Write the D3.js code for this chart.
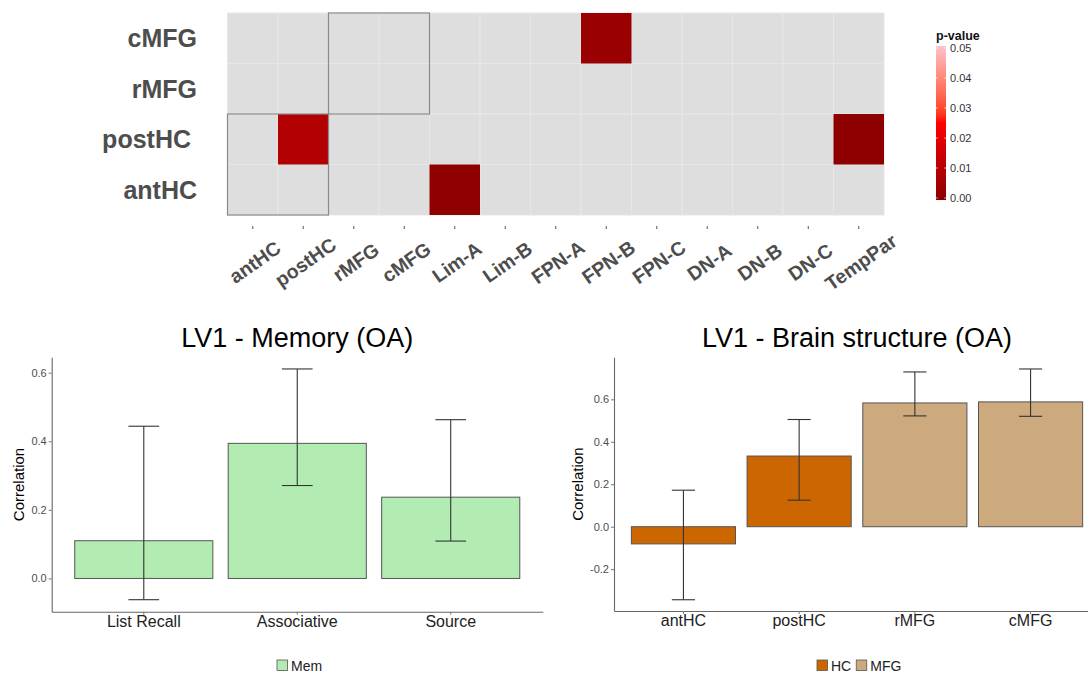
<!DOCTYPE html>
<html>
<head>
<meta charset="utf-8">
<script src="https://cdn.jsdelivr.net/npm/d3@7"></script>
<style>
  html, body { margin: 0; padding: 0; background: #fff; }
  svg { display: block; font-family: "Liberation Sans", Arial, Helvetica, sans-serif; }
</style>
</head>
<body>
<svg id="chart" width="1088" height="674"></svg>
<script>
// ---------------- DATA ----------------
// Heatmap (p-values of significant connections)
const heatRows = ["cMFG", "rMFG", "postHC", "antHC"];           // top to bottom
const heatCols = ["antHC", "postHC", "rMFG", "cMFG", "Lim-A", "Lim-B", "FPN-A",
                  "FPN-B", "FPN-C", "DN-A", "DN-B", "DN-C", "TempPar"];
const sigRow = ["cMFG", "postHC", "postHC", "antHC"];
const sigCol = ["FPN-B", "postHC", "TempPar", "Lim-A"];
const sigP   = [0.0035, 0.009, 0.0008, 0.001];
const boxRowSets = [["postHC", "antHC"], ["cMFG", "rMFG"]];
const boxColSets = [["antHC", "postHC"], ["rMFG", "cMFG"]];
const pTicks = [0, 0.01, 0.02, 0.03, 0.04, 0.05];

// LV1 - Memory (OA)
const memCats = ["List Recall", "Associative", "Source"];
const memVal  = [0.110, 0.394, 0.237];
const memLo   = [-0.062, 0.271, 0.109];
const memHi   = [0.444, 0.611, 0.463];
const memTicks = [0.0, 0.2, 0.4, 0.6];
const memGroups = ["Mem"];

// LV1 - Brain structure (OA)
const brainCats  = ["antHC", "postHC", "rMFG", "cMFG"];
const brainVal   = [-0.081, 0.333, 0.583, 0.588];
const brainLo    = [-0.344, 0.125, 0.522, 0.520];
const brainHi    = [0.172, 0.505, 0.729, 0.743];
const brainGroup = ["HC", "HC", "MFG", "MFG"];
const brainTicks = [-0.2, 0.0, 0.2, 0.4, 0.6];
const brainGroups = ["HC", "MFG"];

// ---------------- STYLE ----------------
const FONT = '"Liberation Sans", Arial, Helvetica, sans-serif';
const svg = d3.select("#chart");

// ================= HEATMAP =================
const hx = d3.scaleBand().domain(heatCols).range([227.5, 884]).padding(0);
const hy = d3.scaleBand().domain(heatRows).range([13, 215]).padding(0);
const pColor = d3.scaleLinear().domain([0, 0.025, 0.05])
  .range(["darkred", "red", "pink"]).interpolate(d3.interpolateLab);

const heat = svg.append("g");
const allCells = [];
heatRows.forEach(r => heatCols.forEach(c => allCells.push({r, c})));
heat.selectAll("rect.bg").data(allCells).join("rect")
  .attr("class", "bg")
  .attr("x", d => hx(d.c)).attr("y", d => hy(d.r))
  .attr("width", hx.bandwidth()).attr("height", hy.bandwidth())
  .attr("fill", "#dedede").attr("stroke", "#e7e7e7").attr("stroke-width", 1);

const sigCells = sigRow.map((r, i) => ({r, c: sigCol[i], p: sigP[i]}));
heat.selectAll("rect.sig").data(sigCells).join("rect")
  .attr("class", "sig")
  .attr("x", d => hx(d.c)).attr("y", d => hy(d.r))
  .attr("width", hx.bandwidth()).attr("height", hy.bandwidth())
  .attr("fill", d => pColor(d.p));

// outline boxes
const boxes = boxRowSets.map((rs, i) => ({rs, cs: boxColSets[i]}));
heat.selectAll("rect.box").data(boxes).join("rect")
  .attr("class", "box")
  .attr("x", d => d3.min(d.cs, c => hx(c)))
  .attr("y", d => d3.min(d.rs, r => hy(r)))
  .attr("width", d => d3.max(d.cs, c => hx(c)) + hx.bandwidth() - d3.min(d.cs, c => hx(c)))
  .attr("height", d => d3.max(d.rs, r => hy(r)) + hy.bandwidth() - d3.min(d.rs, r => hy(r)))
  .attr("fill", "none").attr("stroke", "#8a8a8a").attr("stroke-width", 1.2);

// y labels
heat.selectAll("text.yl").data(heatRows).join("text")
  .attr("class", "yl")
  .attr("x", d => d === "postHC" ? 191 : 197).attr("y", d => hy(d) + hy.bandwidth() / 2)
  .attr("dy", "0.36em")
  .attr("text-anchor", "end")
  .attr("font-size", 25).attr("font-weight", "bold").attr("fill", "#4d4d4d")
  .text(d => d);

// x ticks and labels
heat.selectAll("line.xt").data(heatCols).join("line")
  .attr("class", "xt")
  .attr("x1", d => hx(d) + hx.bandwidth() / 2).attr("x2", d => hx(d) + hx.bandwidth() / 2)
  .attr("y1", 226).attr("y2", 229)
  .attr("stroke", "#555").attr("stroke-width", 1);
heat.selectAll("text.xl").data(heatCols).join("text")
  .attr("class", "xl")
  .attr("transform", d => `translate(${hx(d) + hx.bandwidth() / 2 + 2},${262}) rotate(-35)`)
  .attr("text-anchor", "middle").attr("dy", "0.36em")
  .attr("font-size", 19.5).attr("font-weight", "bold").attr("fill", "#4d4d4d")
  .text(d => d);

// color legend
const leg = svg.append("g");
const ly = d3.scaleLinear().domain([0, 0.05]).range([198, 48]);
const grad = svg.append("defs").append("linearGradient")
  .attr("id", "pgrad").attr("x1", 0).attr("y1", 1).attr("x2", 0).attr("y2", 0);
d3.range(0, 1.0001, 0.05).forEach(t => {
  grad.append("stop").attr("offset", t).attr("stop-color", pColor(t * 0.05));
});
leg.append("rect")
  .attr("x", 936).attr("y", ly(0.05) - 2)
  .attr("width", 10).attr("height", ly(0) - ly(0.05) + 4)
  .attr("fill", "url(#pgrad)");
leg.selectAll("line.lt").data(pTicks).join("line")
  .attr("x1", 936).attr("x2", 938).attr("y1", d => ly(d)).attr("y2", d => ly(d))
  .attr("stroke", "#fff").attr("stroke-opacity", 0.6);
leg.selectAll("line.lt2").data(pTicks).join("line")
  .attr("x1", 944).attr("x2", 946).attr("y1", d => ly(d)).attr("y2", d => ly(d))
  .attr("stroke", "#fff").attr("stroke-opacity", 0.6);
leg.selectAll("text.lt").data(pTicks).join("text")
  .attr("x", 950).attr("y", d => ly(d)).attr("dy", "0.36em")
  .attr("font-size", 11).attr("fill", "#333")
  .text(d => d.toFixed(2));
leg.append("text").attr("x", 936).attr("y", 40)
  .attr("font-size", 12.5).attr("font-weight", "bold").attr("fill", "#111")
  .text("p-value");

// ================= BAR CHARTS =================
function barChart(opts) {
  const g = svg.append("g");
  const x = d3.scaleBand().domain(opts.cats).range(opts.xRange)
    .paddingInner(0.1).paddingOuter(0.15);
  const y = d3.scaleLinear().domain(opts.yDomain).range(opts.yRange);
  const data = opts.cats.map((c, i) => ({c, v: opts.vals[i], lo: opts.lo[i], hi: opts.hi[i], g: opts.groups[i]}));

  // title
  g.append("text")
    .attr("x", (opts.xRange[0] + opts.xRange[1]) / 2).attr("y", 347)
    .attr("text-anchor", "middle").attr("font-size", 27).attr("fill", "#000")
    .text(opts.title);

  // bars
  g.selectAll("rect.bar").data(data).join("rect")
    .attr("class", "bar")
    .attr("x", d => x(d.c)).attr("width", x.bandwidth())
    .attr("y", d => y(Math.max(0, d.v)))
    .attr("height", d => Math.abs(y(d.v) - y(0)))
    .attr("fill", d => opts.color(d.g))
    .attr("stroke", "#555").attr("stroke-width", 1);

  // error bars
  const ew = x.step() * 0.2;
  const eb = g.selectAll("g.eb").data(data).join("g").attr("class", "eb")
    .attr("stroke", "#333").attr("stroke-width", 1.1);
  eb.append("line")
    .attr("x1", d => x(d.c) + x.bandwidth() / 2).attr("x2", d => x(d.c) + x.bandwidth() / 2)
    .attr("y1", d => y(d.lo)).attr("y2", d => y(d.hi));
  eb.append("line")
    .attr("x1", d => x(d.c) + x.bandwidth() / 2 - ew / 2).attr("x2", d => x(d.c) + x.bandwidth() / 2 + ew / 2)
    .attr("y1", d => y(d.lo)).attr("y2", d => y(d.lo));
  eb.append("line")
    .attr("x1", d => x(d.c) + x.bandwidth() / 2 - ew / 2).attr("x2", d => x(d.c) + x.bandwidth() / 2 + ew / 2)
    .attr("y1", d => y(d.hi)).attr("y2", d => y(d.hi));

  // y axis
  const ya = g.append("g").attr("transform", `translate(${opts.xRange[0]},0)`)
    .call(d3.axisLeft(y).tickValues(opts.ticks).tickSize(3).tickSizeOuter(0)
      .tickPadding(2).tickFormat(d => d.toFixed(1)));
  ya.select(".domain").attr("stroke", "#666").attr("stroke-width", 1.1);
  ya.selectAll(".tick line").attr("stroke", "#777");
  ya.selectAll(".tick text").attr("font-size", 11).attr("fill", "#4d4d4d").attr("font-family", FONT);

  // x axis
  const xa = g.append("g").attr("transform", `translate(0,${opts.yRange[0]})`)
    .call(d3.axisBottom(x).tickSize(3).tickSizeOuter(0).tickPadding(1));
  xa.select(".domain").attr("stroke", "#666").attr("stroke-width", 1.1);
  xa.selectAll(".tick line").attr("stroke", "#777");
  xa.selectAll(".tick text").attr("font-size", 16).attr("fill", "#222").attr("font-family", FONT);

  // y axis title
  g.append("text")
    .attr("transform", `translate(${opts.ytitleX},${(opts.yRange[0] + opts.yRange[1]) / 2}) rotate(-90)`)
    .attr("text-anchor", "middle").attr("dy", "0.36em")
    .attr("font-size", 15).attr("fill", "#000")
    .text("Correlation");

  // legend
  const lg = g.append("g");
  let lx = opts.legendX;
  opts.legendGroups.forEach(name => {
    lg.append("rect").attr("x", lx).attr("y", 660).attr("width", 10.5).attr("height", 10.5)
      .attr("fill", opts.color(name)).attr("stroke", "#555").attr("stroke-width", 0.8);
    const t = lg.append("text").attr("x", lx + 14).attr("y", 665.5).attr("dy", "0.36em")
      .attr("font-size", 14).attr("fill", "#222").text(name);
    lx += 14 + t.node().getComputedTextLength() + 5;
  });
}

barChart({
  title: "LV1 - Memory (OA)",
  cats: memCats, vals: memVal, lo: memLo, hi: memHi,
  groups: memCats.map(() => "Mem"),
  color: d3.scaleOrdinal().domain(memGroups).range(["#b3ecb3"]),
  xRange: [51.7, 542.8], yRange: [611.7, 357.3], yDomain: [-0.097, 0.645],
  ticks: memTicks, ytitleX: 19, legendX: 277, legendGroups: memGroups
});

barChart({
  title: "LV1 - Brain structure (OA)",
  cats: brainCats, vals: brainVal, lo: brainLo, hi: brainHi,
  groups: brainGroup,
  color: d3.scaleOrdinal().domain(brainGroups).range(["#cc6600", "#cdaa7d"]),
  xRange: [614, 1100], yRange: [611, 357.3], yDomain: [-0.397, 0.798],
  ticks: brainTicks, ytitleX: 578, legendX: 817, legendGroups: brainGroups
});
</script>
</body>
</html>
